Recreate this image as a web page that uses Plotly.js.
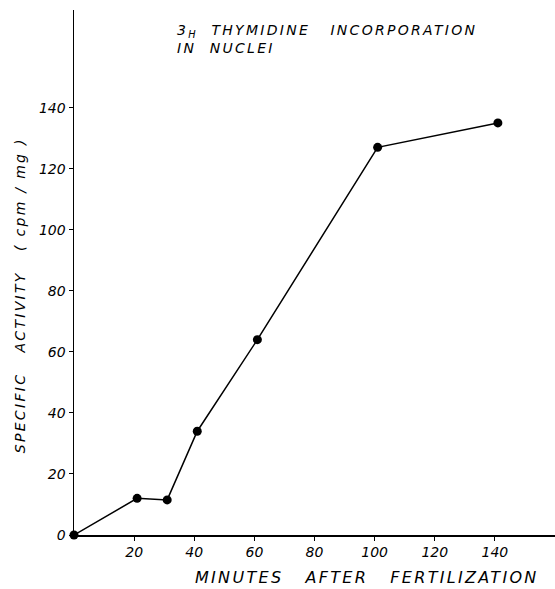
<!DOCTYPE html>
<html>
<head>
<meta charset="utf-8">
<script src="https://cdn.plot.ly/plotly-3.0.1.min.js"></script>
<style>
html,body{margin:0;padding:0;background:#fff;}
#chart{width:555px;height:589px;}
.annotation-text{letter-spacing:2.3px;fill:#000 !important;}
</style>
</head>
<body>
<div id="chart"></div>
<script>
// Data
const minutes = [0, 21, 31, 41, 61, 101, 141];
const specificActivity = [0, 12, 11.5, 34, 64, 127, 135];
const xTickVals = [20, 40, 60, 80, 100, 120, 140];
const yTickVals = [0, 20, 40, 60, 80, 100, 120, 140];
const titleText = '3<sub>H</sub>  THYMIDINE   INCORPORATION<br>IN  NUCLEI';
const xTitleText = 'MINUTES   AFTER   FERTILIZATION';
const yTitleText = 'SPECIFIC   ACTIVITY   ( cpm / mg )';

const fontFam = '"DejaVu Sans", "Liberation Sans", sans-serif';

const trace = {
  x: minutes,
  y: specificActivity,
  type: 'scatter',
  mode: 'lines+markers',
  line: {color: '#000', width: 1.5},
  marker: {color: '#000', size: 9},
  hoverinfo: 'skip',
  cliponaxis: false
};

const axisCommon = {
  ticks: 'outside',
  ticklen: 4,
  tickwidth: 1,
  tickcolor: '#000',
  showline: true,
  linecolor: '#000',
  linewidth: 1.5,
  showgrid: false,
  zeroline: false,
  tickfont: {size: 14, style: 'italic', family: fontFam, color: '#000'},
  fixedrange: true
};

const layout = {
  width: 555,
  height: 589,
  margin: {l: 74, r: 0, t: 10, b: 54},
  paper_bgcolor: '#fff',
  plot_bgcolor: '#fff',
  showlegend: false,
  font: {family: fontFam, color: '#000'},
  xaxis: Object.assign({}, axisCommon, {
    range: [0, 160],
    tickvals: xTickVals,
    ticktext: xTickVals.map(v => '<i>' + v + '</i>')
  }),
  yaxis: Object.assign({}, axisCommon, {
    range: [0, 172],
    tickvals: yTickVals,
    ticktext: yTickVals.map(v => '<i>' + v + '</i>')
  }),
  annotations: [
    {
      text: titleText,
      xref: 'paper', yref: 'paper',
      x: 0.21, y: 0.945,
      xanchor: 'left', yanchor: 'middle',
      align: 'left',
      showarrow: false,
      font: {size: 14, style: 'italic', family: fontFam, color: '#000'}
    },
    {
      text: xTitleText,
      xref: 'paper', yref: 'paper',
      x: 0.609, y: -0.08,
      xanchor: 'center', yanchor: 'middle',
      showarrow: false,
      font: {size: 16, style: 'italic', family: fontFam, color: '#000'}
    },
    {
      text: yTitleText,
      xref: 'paper', yref: 'paper',
      x: -0.112, y: 0.457,
      xanchor: 'center', yanchor: 'middle',
      textangle: -90,
      showarrow: false,
      font: {size: 14, style: 'italic', family: fontFam, color: '#000'}
    }
  ]
};

Plotly.newPlot('chart', [trace], layout, {displayModeBar: false, staticPlot: true});
</script>
</body>
</html>
